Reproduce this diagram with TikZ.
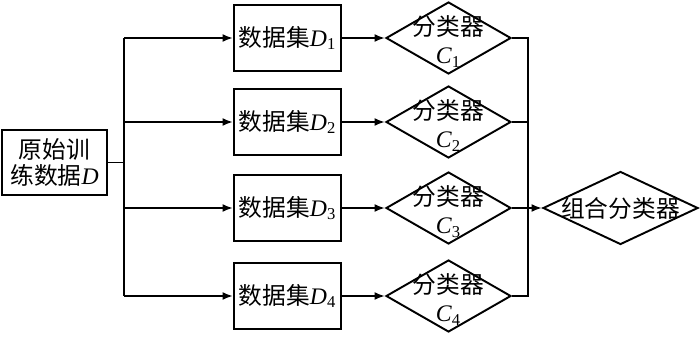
\documentclass[tikz,border=0pt]{standalone}
\usepackage{fontspec}
\setmainfont{Liberation Serif}
\newfontfamily\cjk{Noto Sans CJK SC}
\usetikzlibrary{shapes.geometric,arrows.meta}

\begin{document}
\begin{tikzpicture}[
    every node/.style={font=\fontsize{13.5}{15}\selectfont},
    line width=1.1pt,
    arr/.style={-{Latex[length=2.1mm,width=1.6mm]}},
    srcbox/.style={
        draw,
        minimum width=2.1cm,
        minimum height=1.3cm,
        inner sep=0pt,
        align=center,
    },
    databox/.style={
        draw,
        minimum width=2.14cm,
        minimum height=1.32cm,
        inner sep=0pt,
    },
    clsbox/.style={
        draw,
        diamond,
        minimum width=2.5cm,
        minimum height=1.44cm,
        inner sep=0pt,
    },
    clstext/.style={
        align=center,
        inner sep=0pt,
        yshift=-2pt,
    },
]
\useasboundingbox (0,0) rectangle (14,-6.76);

% Column x positions
\def\xSrc{1.09}
\def\busL{2.48}
\def\xData{5.75}
\def\xCls{8.97}
\def\busR{10.56}
\def\xComb{12.41}

% Row y positions
\def\yA{-0.76}
\def\yB{-2.44}
\def\yC{-4.16}
\def\yD{-5.92}

% --- Original training data ---
\node[srcbox] (src) at (\xSrc, -3.25)
    {{\cjk 原始训}\\{\cjk 练数据}\textit{D}};

% --- Data sets and classifiers ---
\foreach \i/\y in {1/\yA, 2/\yB, 3/\yC, 4/\yD} {
    \node[databox] (d\i) at (\xData, \y)
        {{\cjk 数据集}\textit{D}\textsubscript{\i}};
    \node[clsbox] (c\i) at (\xCls, \y) {};
    \node[clstext] (t\i) at (c\i) {{\cjk 分类器}\\[1pt]\textit{C}\textsubscript{\i}};
    \coordinate (bl\i) at (\busL, \y);
    \coordinate (br\i) at (\busR, \y);
}

% --- Combined classifier ---
\node[clsbox, minimum width=3.1cm, minimum height=1.46cm] (comb) at (\xComb, \yC) {};
\node[inner sep=0pt] (combtext) at (comb) {\cjk 组合分类器};

% Left bus
\draw (src.east) -- (src.east -| bl1);
\draw (bl1) -- (bl4);
\foreach \i in {1,...,4} {
    \draw[arr] (bl\i) -- (d\i.west);
    \draw[arr] (d\i.east) -- (c\i.west);
}

% Right bus
\draw (c1.east) -- (br1) -- (br4) -- (c4.east);
\draw (c2.east) -- (br2);
\draw[arr] (c3.east) -- (comb.west);

\end{tikzpicture}
\end{document}
